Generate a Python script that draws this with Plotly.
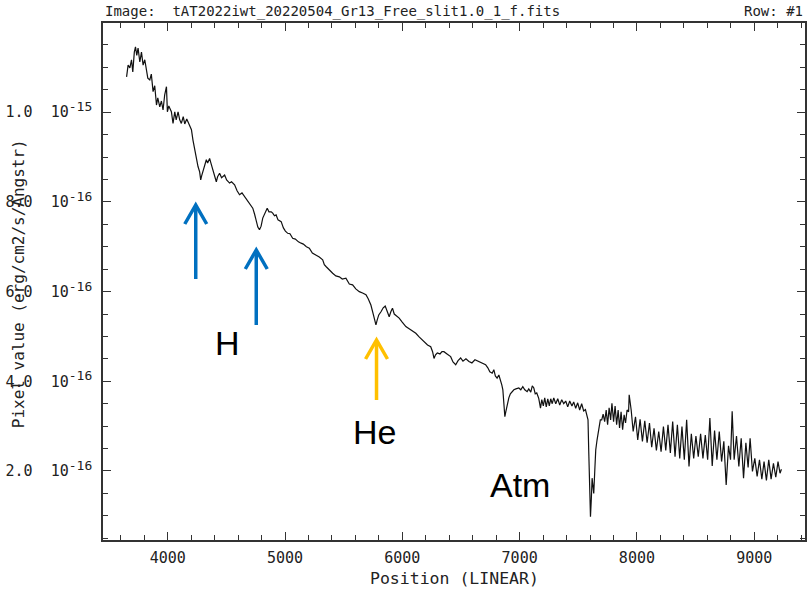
import plotly.graph_objects as go
import numpy as np

# ---- data (wavelength in Angstrom, flux in units of 1e-16 erg/cm2/s/A) ----
wavelength = [
    3649, 3662, 3677, 3691, 3702, 3715, 3725, 3736, 3747, 3762, 3776, 3790, 3804, 3819, 3830,
    3847, 3860, 3875, 3889, 3904, 3915, 3932, 3946, 3960, 3974, 3989, 3997, 4009, 4031, 4045,
    4060, 4072, 4088, 4102, 4116, 4132, 4145, 4162, 4187, 4202, 4215, 4230, 4244, 4258, 4272,
    4281, 4289, 4300, 4315, 4329, 4340, 4357, 4370, 4385, 4400, 4414, 4425, 4442, 4459, 4485,
    4502, 4527, 4544, 4570, 4591, 4612, 4633, 4655, 4676, 4697, 4712, 4725, 4740, 4754, 4768,
    4782, 4796, 4810, 4829, 4848, 4863, 4882, 4895, 4910, 4924, 4940, 4967, 4986, 5003, 5023,
    5042, 5065, 5088, 5114, 5137, 5156, 5182, 5207, 5233, 5264, 5292, 5321, 5335, 5349, 5377,
    5406, 5433, 5463, 5488, 5519, 5548, 5576, 5603, 5633, 5661, 5690, 5709, 5732, 5752, 5765,
    5775, 5786, 5799, 5818, 5837, 5854, 5871, 5888, 5902, 5916, 5931, 5948, 5973, 5999, 6030,
    6058, 6084, 6115, 6143, 6171, 6194, 6215, 6242, 6258, 6270, 6283, 6298, 6321, 6338, 6355,
    6381, 6412, 6432, 6455, 6475, 6497, 6517, 6542, 6568, 6593, 6619, 6653, 6678, 6710, 6729,
    6746, 6766, 6780, 6793, 6808, 6823, 6837, 6848, 6857, 6865, 6874, 6882, 6893, 6908, 6921,
    6936, 6951, 6968, 6993, 7010, 7027, 7044, 7064, 7078, 7095, 7108, 7121, 7133, 7146, 7163,
    7178, 7189, 7202, 7214, 7227, 7240, 7253, 7265, 7278, 7291, 7308, 7325, 7342, 7359, 7376,
    7393, 7410, 7427, 7446, 7461, 7478, 7495, 7512, 7529, 7546, 7561, 7575, 7583, 7589, 7598,
    7604, 7611, 7618, 7624, 7632, 7641, 7649, 7660, 7674, 7688, 7700, 7712, 7725, 7738, 7750,
    7763, 7776, 7787, 7801, 7814, 7827, 7840, 7852, 7865, 7878, 7891, 7903, 7916, 7929, 7934,
    7951, 7968, 7988, 8007, 8027, 8047, 8067, 8087, 8107, 8126, 8146, 8166, 8186, 8206, 8226,
    8246, 8265, 8285, 8305, 8325, 8345, 8365, 8384, 8404, 8424, 8444, 8464, 8484, 8503, 8523,
    8543, 8563, 8583, 8603, 8622, 8642, 8662, 8682, 8702, 8722, 8741, 8761, 8781, 8798, 8812,
    8829, 8849, 8869, 8889, 8909, 8929, 8948, 8965, 8985, 9005, 9025, 9045, 9065, 9084, 9104,
    9124, 9144, 9164, 9184, 9203, 9220, 9232,
]
flux_e16 = [
    10.79, 11.05, 10.99, 11.17, 10.90, 11.34, 11.46, 11.27, 11.43, 11.12, 11.34, 11.05, 11.17, 10.91, 10.76,
    10.72, 10.85, 10.46, 10.59, 10.16, 10.32, 10.12, 10.25, 10.05, 10.39, 10.57, 10.01, 10.14, 10.01, 9.75,
    10.01, 9.83, 10.01, 9.83, 9.75, 9.90, 9.74, 9.85, 9.68, 9.61, 9.38, 9.16, 8.98, 8.79, 8.67,
    8.49, 8.58, 8.68, 8.76, 8.94, 8.87, 8.97, 8.85, 8.71, 8.58, 8.45, 8.56, 8.64, 8.54, 8.60,
    8.49, 8.42, 8.45, 8.38, 8.25, 8.16, 8.20, 8.12, 8.02, 7.97, 7.91, 7.86, 7.73, 7.56, 7.44,
    7.38, 7.46, 7.64, 7.75, 7.86, 7.78, 7.78, 7.75, 7.69, 7.71, 7.60, 7.56, 7.42, 7.35, 7.30,
    7.29, 7.19, 7.17, 7.11, 7.08, 7.06, 7.00, 6.97, 6.86, 6.82, 6.77, 6.71, 6.60, 6.56, 6.48,
    6.41, 6.35, 6.33, 6.28, 6.30, 6.17, 6.15, 6.06, 6.00, 5.97, 5.93, 5.84, 5.70, 5.50, 5.37,
    5.26, 5.37, 5.48, 5.55, 5.64, 5.68, 5.55, 5.44, 5.55, 5.63, 5.50, 5.46, 5.41, 5.32, 5.22,
    5.17, 5.12, 5.07, 4.99, 4.92, 4.86, 4.81, 4.77, 4.66, 4.51, 4.59, 4.63, 4.61, 4.66, 4.66,
    4.61, 4.55, 4.43, 4.37, 4.46, 4.52, 4.45, 4.50, 4.44, 4.41, 4.48, 4.44, 4.41, 4.37, 4.30,
    4.21, 4.18, 4.26, 4.12, 4.07, 4.14, 4.03, 3.92, 3.81, 3.54, 3.21, 3.32, 3.47, 3.63, 3.72,
    3.77, 3.81, 3.83, 3.85, 3.81, 3.88, 3.81, 3.77, 3.83, 3.76, 3.90, 3.85, 3.72, 3.74, 3.62,
    3.40, 3.59, 3.45, 3.63, 3.43, 3.61, 3.45, 3.61, 3.50, 3.63, 3.50, 3.61, 3.47, 3.59, 3.50,
    3.56, 3.43, 3.56, 3.45, 3.54, 3.40, 3.52, 3.36, 3.50, 3.34, 3.37, 3.25, 3.14, 2.47, 1.36,
    0.98, 1.36, 1.84, 1.69, 1.50, 2.02, 2.47, 2.69, 2.96, 3.14, 3.14, 3.27, 3.10, 3.36, 3.03,
    3.41, 3.14, 3.51, 3.10, 3.45, 3.03, 3.36, 2.96, 3.32, 2.92, 3.25, 3.07, 3.36, 3.32, 3.70,
    3.36, 2.88, 3.21, 2.69, 3.15, 2.66, 3.12, 2.63, 3.07, 2.53, 2.95, 2.46, 2.88, 2.43, 2.99,
    2.46, 3.03, 2.40, 3.10, 2.32, 3.03, 2.28, 2.99, 2.25, 3.14, 2.10, 2.83, 2.28, 2.78, 2.32,
    2.83, 2.28, 2.80, 2.25, 3.18, 2.11, 2.90, 2.25, 2.88, 2.21, 2.66, 1.69, 2.56, 2.25, 3.33,
    2.25, 2.78, 2.10, 2.73, 1.84, 2.63, 2.08, 2.73, 1.99, 2.28, 1.88, 2.25, 1.82, 2.21, 1.79,
    2.25, 1.82, 2.17, 1.86, 2.21, 1.95, 2.04,
]
flux = np.array(flux_e16) * 1e-16

x_tick_vals = [4000, 5000, 6000, 7000, 8000, 9000]
y_tick_vals = [2e-16, 4e-16, 6e-16, 8e-16, 1e-15]
y_mant = ["2.0", "4.0", "6.0", "8.0", "1.0"]
y_exp = ["-16", "-16", "-16", "-16", "-15"]
y_tick_text = [f"{m}\u00a0\u00a010<sup><span style=\"font-size:13px\">{e}</span></sup>"
               for m, e in zip(y_mant, y_exp)]

title_left = "Image:  tAT2022iwt_20220504_Gr13_Free_slit1.0_1_f.fits"
title_right = "Row: #1"
x_title = "Position (LINEAR)"
y_title = "Pixel value (erg/cm2/s/Angstr)"

MONO = "DejaVu Sans Mono"
AXC = "#333333"

# layout geometry (pixels)
W, H = 808, 591
L, R, T, B = 103, 1, 23, 51
PW, PH = W - L - R, H - T - B


def P(px, py):
    return (px - L) / PW, (H - B - py) / PH


fig = go.Figure()
fig.add_trace(go.Scatter(x=wavelength, y=flux, mode="lines",
                         line=dict(color="#111111", width=1.2), hoverinfo="skip"))

fig.update_layout(
    width=W, height=H, margin=dict(l=L, r=R, t=T, b=B),
    paper_bgcolor="white", plot_bgcolor="white", showlegend=False,
    xaxis=dict(range=[3448, 9433], tickvals=x_tick_vals, ticks="inside", ticklen=8,
               tickwidth=1.2, tickcolor=AXC, showline=True, linecolor=AXC, linewidth=1.5,
               mirror="ticks", showgrid=False, zeroline=False, ticklabelstandoff=3,
               tickfont=dict(family=MONO, size=15, color="#222"),
               minor=dict(dtick=200, tick0=0, ticks="inside", ticklen=5, tickwidth=1.2,
                          tickcolor=AXC, showgrid=False)),
    yaxis=dict(range=[0.461e-16, 11.99e-16], tickvals=y_tick_vals, ticktext=y_tick_text,
               ticks="inside", ticklen=8, tickwidth=1.2, tickcolor=AXC, showline=True,
               linecolor=AXC, linewidth=1.5, mirror="ticks", showgrid=False, zeroline=False,
               ticklabelstandoff=6,
               tickfont=dict(family=MONO, size=15, color="#222"),
               minor=dict(dtick=0.5e-16, tick0=0, ticks="inside", ticklen=5, tickwidth=1.2,
                          tickcolor=AXC, showgrid=False)),
)

ann = []
x0, y0 = P(103, 11.5)
ann.append(dict(text=title_left, x=x0, y=y0, xref="paper", yref="paper", xanchor="left",
                yanchor="middle", showarrow=False, font=dict(family=MONO, size=14, color="#222")))
x0, y0 = P(807, 11.5)
ann.append(dict(text=title_right, x=x0, y=y0, xref="paper", yref="paper", xanchor="right",
                yanchor="middle", showarrow=False, font=dict(family=MONO, size=14, color="#222")))
x0, y0 = P(455, 578)
ann.append(dict(text=x_title, x=x0, y=y0, xref="paper", yref="paper", xanchor="center",
                yanchor="middle", showarrow=False, font=dict(family=MONO, size=16.5, color="#222")))
x0, y0 = P(18, 284)
ann.append(dict(text=y_title, x=x0, y=y0, xref="paper", yref="paper", xanchor="center",
                yanchor="middle", textangle=-90, showarrow=False,
                font=dict(family=MONO, size=16, color="#222")))
for txt, px, py in [("H", 228, 343), ("He", 375, 432), ("Atm", 521, 485)]:
    x0, y0 = P(px, py)
    ann.append(dict(text=txt, x=x0, y=y0, xref="paper", yref="paper", xanchor="center",
                    yanchor="middle", showarrow=False,
                    font=dict(family="Liberation Sans", size=34, color="black")))
fig.update_layout(annotations=ann)

# arrows: (x, tip_y, bottom_y, color)
shapes = []
for ax_, tip, bot, col in [(196, 205, 279, "#0070C0"), (256.7, 250, 325, "#0070C0"),
                           (377.3, 340, 400, "#FFC000")]:
    a = P(ax_, bot)
    b = P(ax_, tip + 2)
    shapes.append(dict(type="line", xref="paper", yref="paper", x0=a[0], y0=a[1], x1=b[0], y1=b[1],
                       line=dict(color=col, width=3.5)))
    l = P(ax_ - 11, tip + 19)
    t = P(ax_, tip)
    r = P(ax_ + 11, tip + 19)
    shapes.append(dict(type="path", xref="paper", yref="paper",
                       path=f"M {l[0]},{l[1]} L {t[0]},{t[1]} L {r[0]},{r[1]}",
                       line=dict(color=col, width=3.5)))
fig.update_layout(shapes=shapes)

fig.write_html("out.html")
